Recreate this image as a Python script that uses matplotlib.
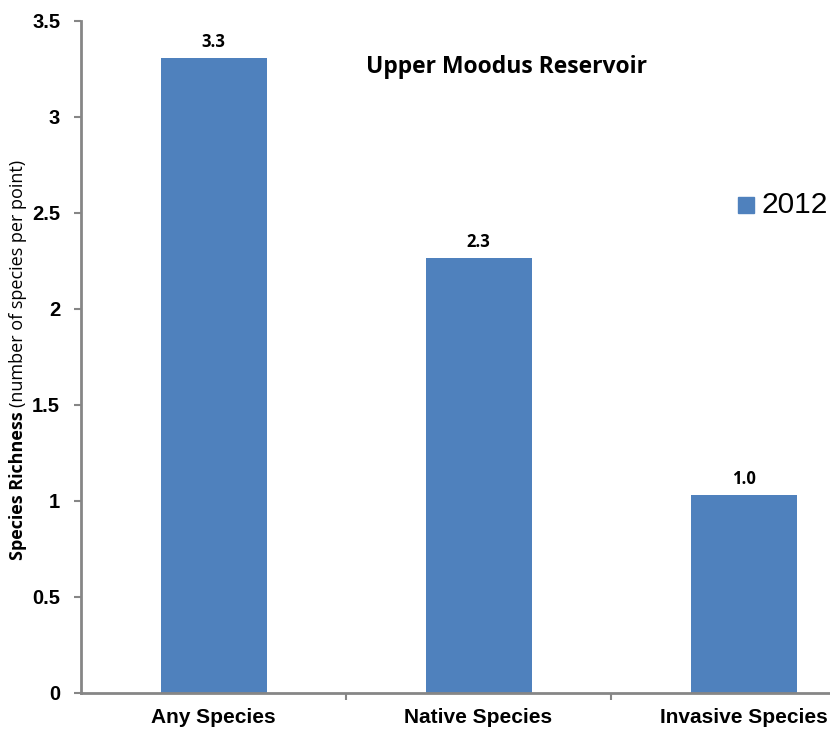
import matplotlib
matplotlib.use("Agg")
import matplotlib.pyplot as plt
import numpy as np

categories = ["Any Species", "Native Species", "Invasive Species"]
values_2012 = [3.306, 2.266, 1.031]
value_labels = ["3.3", "2.3", "1.0"]
yticks = [0, 0.5, 1, 1.5, 2, 2.5, 3, 3.5]
ytick_labels = ["0", "0.5", "1", "1.5", "2", "2.5", "3", "3.5"]
series_name = "2012"
title = "Upper Moodus Reservoir"

W, H = 830, 735
fig = plt.figure(figsize=(W / 100, H / 100), dpi=100)
bar_color = "#4F81BD"
spine_color = "#868686"

# axes: left spine at x=81, bottom at y=693, top (3.5) at y=21; category width 265px
left, bottom, top = 81, 693, 21
width = 3 * 265
ax = fig.add_axes([left / W, 1 - bottom / H, width / W, (bottom - top) / H])

x = np.arange(len(categories))
bars = ax.bar(x, values_2012, width=0.4, color=bar_color, label=series_name, zorder=2)
ax.set_xlim(-0.5, len(categories) - 0.5)
ax.set_ylim(0, 3.5)

for s in ["top", "right"]:
    ax.spines[s].set_visible(False)
for s in ["left", "bottom"]:
    ax.spines[s].set_color(spine_color)
    ax.spines[s].set_linewidth(2)

ax.set_yticks(yticks)
ax.set_yticklabels(ytick_labels, fontfamily="Liberation Sans", fontweight="bold", fontsize=14.5)
ax.tick_params(axis="y", direction="out", length=5, width=1.5, color=spine_color, pad=10)

ax.set_xticks(x)
ax.set_xticklabels(categories, fontfamily="Liberation Sans", fontweight="bold", fontsize=15)
ax.tick_params(axis="x", length=0, pad=11)
ax.set_xticks(np.arange(len(categories)) + 0.5, minor=True)
ax.tick_params(axis="x", which="minor", direction="out", length=5, width=1.5, color=spine_color)

for rect, lab in zip(bars, value_labels):
    ax.annotate(lab, (rect.get_x() + rect.get_width() / 2, rect.get_height()),
                xytext=(0, 5), textcoords="offset points", ha="center", va="bottom",
                fontfamily="Open Sans", fontweight="bold", fontsize=12)

fig.text(506 / W, 1 - 67 / H, title, ha="center", va="center",
         fontfamily="Open Sans", fontweight="bold", fontsize=16.5)

# legend
fig.patches.append(plt.Rectangle((738 / W, 1 - 213 / H), 16 / W, 16 / H,
                                 transform=fig.transFigure, color=bar_color))
fig.text(761 / W, 1 - 205 / H, series_name, ha="left", va="center",
         fontfamily="Liberation Sans", fontsize=21.5)

# y label: bold part + regular part
fig.canvas.draw()
renderer = fig.canvas.get_renderer()
t1 = fig.text(18 / W, 1 - 560 / H, "Species Richness", rotation=90, ha="center", va="bottom",
              fontfamily="Open Sans", fontweight="bold", fontsize=13)
bb = t1.get_window_extent(renderer)
fig.text(18 / W, (bb.y1 + 4) / H, "(number of species per point)", rotation=90,
         ha="center", va="bottom", fontfamily="Open Sans", fontsize=13)

fig.savefig("out.png", dpi=100)
